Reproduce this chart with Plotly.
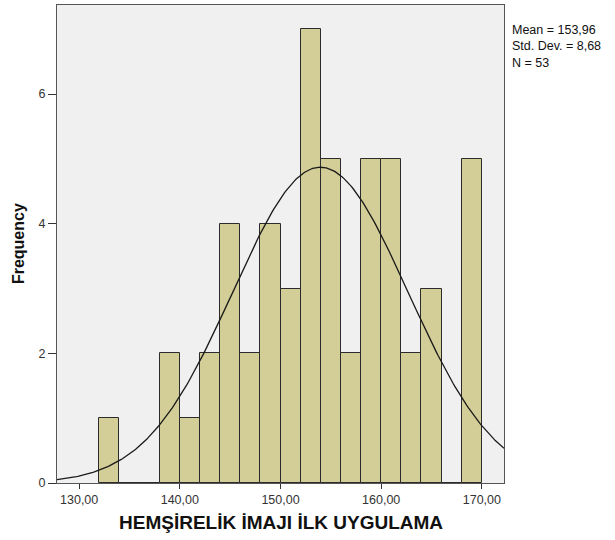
import numpy as np
import plotly.graph_objects as go

bin_starts = [132, 134, 136, 138, 140, 142, 144, 146, 148, 150, 152, 154, 156, 158, 160, 162, 164, 166, 168]
counts = [1, 0, 0, 2, 1, 2, 4, 2, 4, 3, 7, 5, 2, 5, 5, 2, 3, 0, 5]
bin_width = 2
mean_val = 153.96
std_val = 8.68
n_val = 53
x_ticks = [130, 140, 150, 160, 170]
x_tick_labels = ["130,00", "140,00", "150,00", "160,00", "170,00"]
y_ticks = [0, 2, 4, 6]
stats_lines = ["Mean = 153,96", "Std. Dev. = 8,68", "N = 53"]

x_range = [127.8, 172.2]
y_range = [0, 7.375]

fig = go.Figure()
fig.add_trace(go.Bar(
    x=[s + bin_width / 2 for s in bin_starts],
    y=counts,
    width=bin_width,
    marker=dict(color="#D3CE97", line=dict(color="#2b2b2b", width=1)),
    hoverinfo="skip",
))

xs = np.linspace(x_range[0], x_range[1], 300)
ys = n_val * bin_width * np.exp(-0.5 * ((xs - mean_val) / std_val) ** 2) / (std_val * np.sqrt(2 * np.pi))
fig.add_trace(go.Scatter(x=xs, y=ys, mode="lines", line=dict(color="#1a1a1a", width=1.3), hoverinfo="skip"))

annotations = [
    dict(xref="paper", yref="paper", x=1.015, y=(483 - 47) / 478, xanchor="left", yanchor="middle",
         text="<br>".join(stats_lines), showarrow=False, align="left", borderpad=0,
         font=dict(size=12.5, color="#111")),
    dict(xref="paper", yref="paper", x=0.5, y=-0.083, xanchor="center", yanchor="middle",
         text="<b>HEMŞİRELİK İMAJI İLK UYGULAMA</b>", showarrow=False,
         font=dict(size=19, color="#111")),
    dict(xref="paper", yref="paper", x=-0.087, y=0.5, xanchor="center", yanchor="middle",
         text="<b>Frequency</b>", showarrow=False, textangle=-90,
         font=dict(size=16, color="#111")),
]

fig.update_layout(
    width=615, height=540,
    margin=dict(l=57, r=111, t=5, b=57, autoexpand=False),
    paper_bgcolor="white",
    plot_bgcolor="#F0F0F0",
    showlegend=False,
    bargap=0,
    font=dict(family="Liberation Sans, Arial", color="#222"),
    xaxis=dict(
        range=x_range, tickvals=x_ticks, ticktext=x_tick_labels, automargin=False,
        ticks="outside", ticklen=5, tickcolor="#333", showgrid=False, zeroline=False,
        showline=True, linecolor="#555", linewidth=1.3, mirror=True,
        tickfont=dict(size=12.5, color="#333"),
    ),
    yaxis=dict(
        range=y_range, tickvals=y_ticks, automargin=False,
        ticks="outside", ticklen=8, tickcolor="#333", showgrid=False, zeroline=False,
        showline=True, linecolor="#555", linewidth=1.3, mirror=True,
        tickfont=dict(size=12.5, color="#333"),
    ),
    annotations=annotations,
)

fig.write_html("out.html", config={"displayModeBar": False},
               post_script="document.body.style.margin='0';document.body.style.overflow='hidden';")
